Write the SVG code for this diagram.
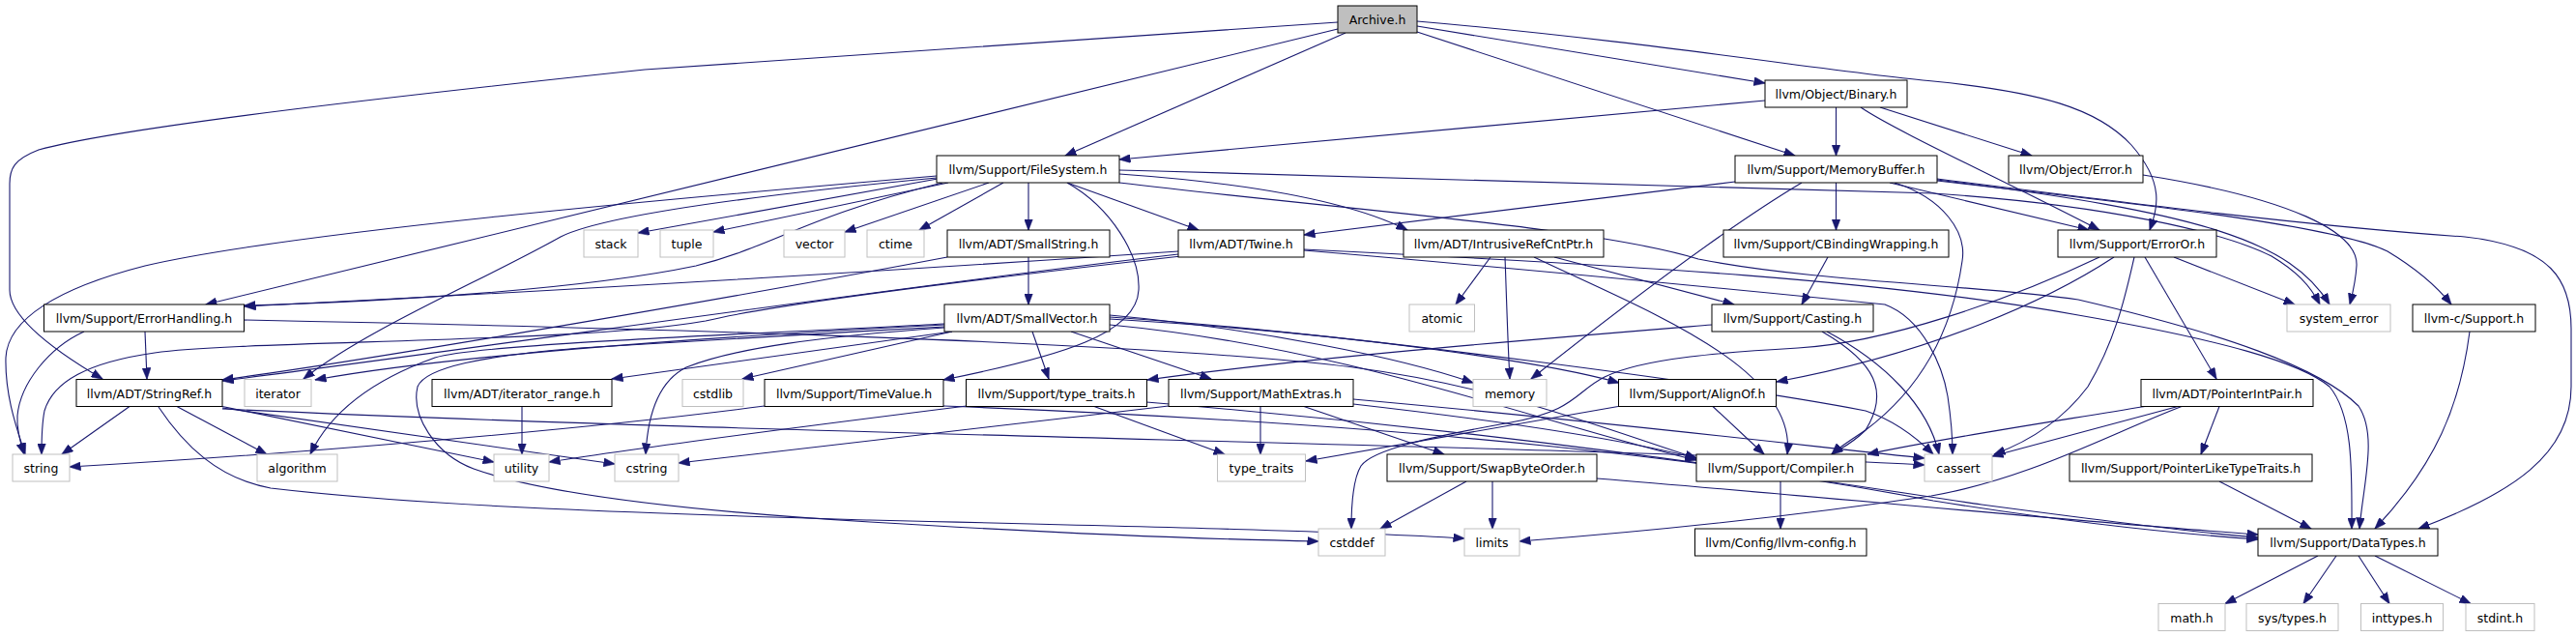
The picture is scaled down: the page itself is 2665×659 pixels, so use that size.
<svg xmlns="http://www.w3.org/2000/svg" width="2665" height="659" viewBox="0 0 2665 659">
<defs>
<style>
.n rect{fill:#fff;stroke:#000;stroke-width:1}
.g rect{fill:#fff;stroke:#bfbfbf;stroke-width:1}
.r rect{fill:#bfbfbf;stroke:#000;stroke-width:1}
text{font-family:"DejaVu Sans","Liberation Sans",sans-serif;font-size:12.5px;fill:#000;text-anchor:middle}
#edges path{fill:none;stroke:#191970;stroke-width:1.1;marker-end:url(#ah)}
</style>
<marker id="ah" markerUnits="userSpaceOnUse" markerWidth="12" markerHeight="9" refX="11.5" refY="4.5" orient="auto">
<path d="M0,0 L12,4.5 L0,9 z" fill="#191970" stroke="#191970" stroke-width="0.5"/>
</marker>
</defs>
<rect width="2665" height="659" fill="#fff"/>
<g id="edges">
<path d="M1384,23 L667,72 C450,95 130,130 40,155 C14,165 10,175 10,190 L10,300 C10,330 60,365 106,392"/>
<path d="M1384,30 L213,315"/>
<path d="M1392,34 L1102,161"/>
<path d="M1466,33 L1857,161"/>
<path d="M1466,27 L1826,86"/>
<path d="M1466,22 C1700,42 1900,75 2000,84 C2110,95 2170,112 2205,150 C2240,190 2232,215 2224,238"/>
<path d="M1826,104 L1158,165"/>
<path d="M1899.5,111 L1899.5,161"/>
<path d="M1945,111 L2102,161"/>
<path d="M1925,111 C1960,135 2080,190 2172,238"/>
<path d="M2217,181 C2370,205 2440,240 2438,275 C2437,292 2434,303 2431,315"/>
<path d="M970,185 L660,241"/>
<path d="M981,189 L738,240"/>
<path d="M1023,189 L874,240"/>
<path d="M1038,189 L951,238"/>
<path d="M1064,189 L1064,238"/>
<path d="M1104,189 L1240,238"/>
<path d="M1104,189 C1150,215 1180,265 1178,300 C1176,345 1100,368 976,393"/>
<path d="M1158,180 C1300,190 1400,210 1456,238"/>
<path d="M1158,176 C1500,185 1850,195 2000,200 C2180,212 2300,240 2350,265 C2375,280 2390,295 2400,315"/>
<path d="M1158,189 C1400,218 1650,235 1757,268 C1880,292 2050,295 2150,310 C2300,345 2400,380 2440,420 C2460,450 2445,500 2441,547"/>
<path d="M975,189 C830,225 800,255 720,275 C600,300 400,312 253,316"/>
<path d="M969,184 C750,205 620,225 580,245 C500,290 380,340 314,392"/>
<path d="M969,182 C700,205 300,240 150,275 C60,298 8,330 6,370 C5,410 18,445 26,470"/>
<path d="M1795,188 L1349,243"/>
<path d="M1864,189 C1800,227 1700,300 1584,392"/>
<path d="M1899.5,189 L1899.5,238"/>
<path d="M1955,189 L2161,238"/>
<path d="M1960,189 C2010,205 2035,240 2030,270 C2020,340 1990,400 1930,445 C1912,457 1902,463 1895,470"/>
<path d="M2004,185 C2200,210 2400,235 2550,245 C2640,255 2660,290 2660,340 L2660,400 C2660,470 2600,510 2502,547"/>
<path d="M2004,186 C2280,220 2370,250 2410,315"/>
<path d="M2004,187 C2250,215 2420,235 2470,260 C2500,278 2520,295 2536,315"/>
<path d="M1064,266 L1064,315"/>
<path d="M980,266 C800,300 400,370 230,393"/>
<path d="M1219,263 C900,300 500,360 230,394"/>
<path d="M1219,260 C1000,275 600,300 253,317"/>
<path d="M1222,265 C1000,290 800,315 730,332 C600,355 250,352 160,365 C90,375 55,395 46,425 C43,440 43,455 43,470"/>
<path d="M1349,259 C1600,280 1800,300 1950,315 C1990,330 2010,380 2015,410 C2018,430 2020,450 2020,470"/>
<path d="M1349,258 C1700,275 1950,290 2150,326 C2300,352 2380,375 2410,400 C2435,430 2433,490 2433,547"/>
<path d="M1542,266 L1506,315"/>
<path d="M1557,266 C1559,320 1560,360 1562,392"/>
<path d="M1608,266 L1794,315"/>
<path d="M1587,266 C1700,320 1860,380 1849,470"/>
<path d="M1891,266 L1864,315"/>
<path d="M2249,266 L2374,315"/>
<path d="M2219,266 L2293,392"/>
<path d="M2208,266 C2200,300 2190,350 2160,400 C2130,440 2090,460 2063,470"/>
<path d="M2187,266 C2120,310 2000,365 1838,395"/>
<path d="M2172,266 C2080,310 1950,355 1860,360 C1790,364 1700,370 1660,390 C1630,405 1630,425 1563,437 C1480,452 1420,465 1408,482 C1400,495 1398,520 1398,547"/>
<path d="M150,343 L152,392"/>
<path d="M87,343 C50,360 21,397 18,430 C17,445 21,458 25,470"/>
<path d="M252,331 C700,340 1200,355 1400,380 C1550,400 1650,440 1755,474"/>
<path d="M985,343 L633,392"/>
<path d="M1148,330 C1400,345 1600,375 1675,396"/>
<path d="M1148,336 C1400,360 1600,440 1755,476"/>
<path d="M1108,343 L1253,392"/>
<path d="M1068,343 L1085,392"/>
<path d="M977,335 C800,345 500,355 450,370 C380,395 340,430 321,470"/>
<path d="M1148,328 C1400,345 1800,400 1930,425 C1960,435 1985,455 2000,470"/>
<path d="M977,338 C850,345 720,352 600,360 C500,368 440,380 432,400 C425,430 450,470 490,485 C560,510 700,528 900,540 C1100,552 1250,558 1364,560"/>
<path d="M985,343 L768,392"/>
<path d="M977,339 C850,348 760,360 710,380 C680,395 670,430 668,470"/>
<path d="M977,336 C700,350 450,370 326,393"/>
<path d="M1148,326 C1300,340 1450,370 1524,396"/>
<path d="M1771,336 C1600,350 1350,370 1187,393"/>
<path d="M1890,343 C1950,375 1995,420 2006,470"/>
<path d="M1885,343 C1940,375 1955,405 1930,445 C1915,460 1902,465 1895,470"/>
<path d="M2555,343 C2545,420 2520,480 2457,547"/>
<path d="M134,420.5 L64,470"/>
<path d="M183,420.5 L276,470"/>
<path d="M230,420.5 L511,478"/>
<path d="M230,422 L636,480"/>
<path d="M230,423 C800,450 1600,460 1991,481"/>
<path d="M164,421 C190,460 225,495 280,505 C450,525 700,532 900,538 C1200,545 1400,550 1515,557"/>
<path d="M540,420.5 L540,470"/>
<path d="M791,420 C600,445 300,470 72,483"/>
<path d="M976,420 C1500,440 1800,480 2000,518 C2150,542 2250,552 2336,558"/>
<path d="M1132,420.5 L1267,470"/>
<path d="M1000,420 C800,445 650,465 568,478"/>
<path d="M1186,416 C1600,450 1900,500 2050,522 C2200,542 2280,552 2336,556"/>
<path d="M1304,420.5 L1304,470"/>
<path d="M1209,420 L702,479"/>
<path d="M1349,420.5 L1494,470"/>
<path d="M1400,418 C1550,435 1680,455 1755,474"/>
<path d="M1400,413 C1700,440 1900,465 1991,474"/>
<path d="M1772,420.5 L1825,470"/>
<path d="M1674,420.5 L1351,477"/>
<path d="M2296,420.5 L2277,470"/>
<path d="M2219,420.5 C2100,440 2000,455 1932,470"/>
<path d="M2253,420.5 L2061,472"/>
<path d="M2257,420.5 C2180,450 2100,495 1998,513 C1850,535 1700,550 1572,560"/>
<path d="M1517,498 L1428,547"/>
<path d="M1544,498 L1544,547"/>
<path d="M1652,495 C1900,515 2150,540 2336,553"/>
<path d="M1842,498 L1842,547"/>
<path d="M2296,498 L2391,547"/>
<path d="M2398,575 L2302,624.5"/>
<path d="M2417,575 L2383,624.5"/>
<path d="M2440,575 L2472,624.5"/>
<path d="M2457,575 L2556,624.5"/>
</g>
<g id="node-archive" class="r"><rect x="1384" y="6" width="82" height="28"/><text x="1425" y="25">Archive.h</text></g>
<g id="node-binary" class="n"><rect x="1826" y="83" width="147" height="28"/><text x="1899.5" y="102">llvm/Object/Binary.h</text></g>
<g id="node-filesystem" class="n"><rect x="969" y="161" width="189" height="28"/><text x="1063.5" y="180">llvm/Support/FileSystem.h</text></g>
<g id="node-memorybuffer" class="n"><rect x="1795" y="161" width="209" height="28"/><text x="1899.5" y="180">llvm/Support/MemoryBuffer.h</text></g>
<g id="node-objerror" class="n"><rect x="2078" y="161" width="139" height="28"/><text x="2147.5" y="180">llvm/Object/Error.h</text></g>
<g id="node-stack" class="g"><rect x="604" y="238" width="56" height="28"/><text x="632" y="257">stack</text></g>
<g id="node-tuple" class="g"><rect x="683" y="238" width="55" height="28"/><text x="710.5" y="257">tuple</text></g>
<g id="node-vector" class="g"><rect x="811" y="238" width="63" height="28"/><text x="842.5" y="257">vector</text></g>
<g id="node-ctime" class="g"><rect x="897" y="238" width="59" height="28"/><text x="926.5" y="257">ctime</text></g>
<g id="node-smallstring" class="n"><rect x="980" y="238" width="168" height="28"/><text x="1064" y="257">llvm/ADT/SmallString.h</text></g>
<g id="node-twine" class="n"><rect x="1219" y="238" width="130" height="28"/><text x="1284" y="257">llvm/ADT/Twine.h</text></g>
<g id="node-intrusive" class="n"><rect x="1452" y="238" width="207" height="28"/><text x="1555.5" y="257">llvm/ADT/IntrusiveRefCntPtr.h</text></g>
<g id="node-cbinding" class="n"><rect x="1783" y="238" width="233" height="28"/><text x="1899.5" y="257">llvm/Support/CBindingWrapping.h</text></g>
<g id="node-erroror" class="n"><rect x="2129" y="238" width="164" height="28"/><text x="2211" y="257">llvm/Support/ErrorOr.h</text></g>
<g id="node-errorhandling" class="n"><rect x="45.5" y="315" width="207" height="28"/><text x="149" y="334">llvm/Support/ErrorHandling.h</text></g>
<g id="node-smallvector" class="n"><rect x="977" y="315" width="171" height="28"/><text x="1062.5" y="334">llvm/ADT/SmallVector.h</text></g>
<g id="node-atomic" class="g"><rect x="1458" y="315" width="67.5" height="28"/><text x="1491.75" y="334">atomic</text></g>
<g id="node-casting" class="n"><rect x="1771" y="315" width="167" height="28"/><text x="1854.5" y="334">llvm/Support/Casting.h</text></g>
<g id="node-system_error" class="g"><rect x="2366" y="315" width="107" height="28"/><text x="2419.5" y="334">system_error</text></g>
<g id="node-llvmc-support" class="n"><rect x="2496" y="315" width="127" height="28"/><text x="2559.5" y="334">llvm-c/Support.h</text></g>
<g id="node-stringref" class="n"><rect x="79" y="392.5" width="151" height="28"/><text x="154.5" y="411.5">llvm/ADT/StringRef.h</text></g>
<g id="node-iterator" class="g"><rect x="253" y="392.5" width="69" height="28"/><text x="287.5" y="411.5">iterator</text></g>
<g id="node-iterator_range" class="n"><rect x="447" y="392.5" width="186" height="28"/><text x="540" y="411.5">llvm/ADT/iterator_range.h</text></g>
<g id="node-cstdlib" class="g"><rect x="706" y="392.5" width="63" height="28"/><text x="737.5" y="411.5">cstdlib</text></g>
<g id="node-timevalue" class="n"><rect x="791" y="392.5" width="185" height="28"/><text x="883.5" y="411.5">llvm/Support/TimeValue.h</text></g>
<g id="node-typetraits-h" class="n"><rect x="999.5" y="392.5" width="187" height="28"/><text x="1093" y="411.5">llvm/Support/type_traits.h</text></g>
<g id="node-mathextras" class="n"><rect x="1209" y="392.5" width="191" height="28"/><text x="1304.5" y="411.5">llvm/Support/MathExtras.h</text></g>
<g id="node-memory" class="g"><rect x="1524" y="392.5" width="76" height="28"/><text x="1562" y="411.5">memory</text></g>
<g id="node-alignof" class="n"><rect x="1674.5" y="392.5" width="163" height="28"/><text x="1756" y="411.5">llvm/Support/AlignOf.h</text></g>
<g id="node-pointerintpair" class="n"><rect x="2215" y="392.5" width="178" height="28"/><text x="2304" y="411.5">llvm/ADT/PointerIntPair.h</text></g>
<g id="node-string" class="g"><rect x="13" y="470" width="59" height="28"/><text x="42.5" y="489">string</text></g>
<g id="node-algorithm" class="g"><rect x="266" y="470" width="83" height="28"/><text x="307.5" y="489">algorithm</text></g>
<g id="node-utility" class="g"><rect x="511" y="470" width="57" height="28"/><text x="539.5" y="489">utility</text></g>
<g id="node-cstring" class="g"><rect x="636" y="470" width="66" height="28"/><text x="669" y="489">cstring</text></g>
<g id="node-type_traits" class="g"><rect x="1259.5" y="470" width="91" height="28"/><text x="1305" y="489">type_traits</text></g>
<g id="node-swapbyteorder" class="n"><rect x="1435" y="470" width="217" height="28"/><text x="1543.5" y="489">llvm/Support/SwapByteOrder.h</text></g>
<g id="node-compiler" class="n"><rect x="1755" y="470" width="175" height="28"/><text x="1842.5" y="489">llvm/Support/Compiler.h</text></g>
<g id="node-cassert" class="g"><rect x="1991" y="470" width="70" height="28"/><text x="2026" y="489">cassert</text></g>
<g id="node-pointerlike" class="n"><rect x="2141" y="470" width="251" height="28"/><text x="2266.5" y="489">llvm/Support/PointerLikeTypeTraits.h</text></g>
<g id="node-cstddef" class="g"><rect x="1364" y="547" width="69" height="28"/><text x="1398.5" y="566">cstddef</text></g>
<g id="node-limits" class="g"><rect x="1515" y="547" width="57" height="28"/><text x="1543.5" y="566">limits</text></g>
<g id="node-llvmconfig" class="n"><rect x="1753.5" y="547" width="177.5" height="28"/><text x="1842.25" y="566">llvm/Config/llvm-config.h</text></g>
<g id="node-datatypes" class="n"><rect x="2336" y="547" width="186" height="28"/><text x="2429" y="566">llvm/Support/DataTypes.h</text></g>
<g id="node-math" class="g"><rect x="2233" y="624.5" width="69" height="28"/><text x="2267.5" y="643.5">math.h</text></g>
<g id="node-systypes" class="g"><rect x="2324" y="624.5" width="95" height="28"/><text x="2371.5" y="643.5">sys/types.h</text></g>
<g id="node-inttypes" class="g"><rect x="2442.5" y="624.5" width="85" height="28"/><text x="2485" y="643.5">inttypes.h</text></g>
<g id="node-stdint" class="g"><rect x="2551" y="624.5" width="71" height="28"/><text x="2586.5" y="643.5">stdint.h</text></g>
</svg>
